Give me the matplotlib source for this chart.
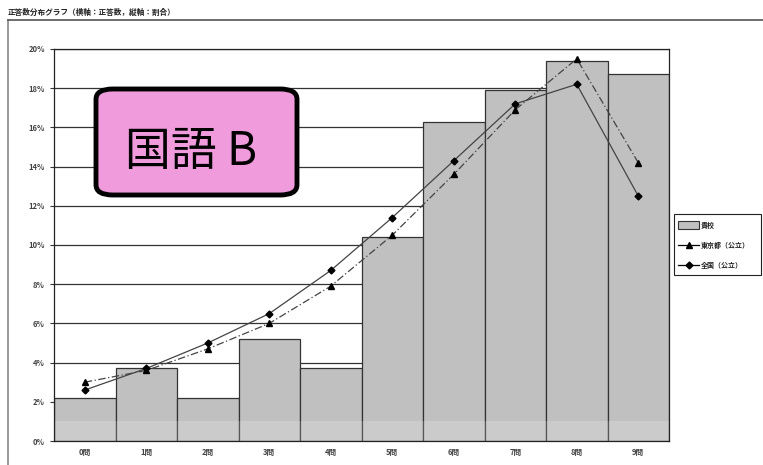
import matplotlib
matplotlib.use("Agg")
import matplotlib.pyplot as plt
from matplotlib.patches import FancyBboxPatch, Rectangle
from matplotlib.lines import Line2D
from matplotlib.ticker import FuncFormatter

plt.rcParams['font.family'] = ['Noto Sans CJK JP', 'DejaVu Sans']

categories = ["0問", "1問", "2問", "3問", "4問", "5問", "6問", "7問", "8問", "9問"]
school = [2.2, 3.7, 2.2, 5.2, 3.7, 10.4, 16.3, 17.9, 19.4, 18.7]
tokyo = [3.0, 3.6, 4.7, 6.0, 7.9, 10.5, 13.6, 16.9, 19.5, 14.2]
national = [2.6, 3.7, 5.0, 6.5, 8.7, 11.4, 14.3, 17.2, 18.2, 12.5]
legend_labels = ["貴校", "東京都（公立）", "全国（公立）"]

W, H = 763, 465
fig = plt.figure(figsize=(W / 100, H / 100), dpi=100)


def fx(px):
    return px / W


def fy(py):
    return 1 - py / H


# outer chart frame and heading
fig.add_artist(Line2D([fx(8), fx(8)], [0, fy(20)], transform=fig.transFigure,
                      color="#888888", lw=1.2))
fig.add_artist(Line2D([fx(8), 1], [fy(20), fy(20)], transform=fig.transFigure,
                      color="#555555", lw=1.2))
fig.text(fx(8), fy(12), "正答数分布グラフ（横軸：正答数，縦軸：割合）",
         fontsize=5.5, fontweight="bold", va="center", ha="left", color="#222222")

ax = fig.add_axes([fx(54), fy(441), (669 - 54) / W, (441 - 49) / H])
x = list(range(len(categories)))

ax.set_ylim(0, 20)
ax.set_xlim(-0.5, len(categories) - 0.5)
ax.set_yticks(range(0, 21, 2))
ax.yaxis.set_major_formatter(FuncFormatter(lambda v, p: f"{int(v)}%"))
ax.grid(axis="y", color="#333333", lw=0.9)
ax.set_axisbelow(True)

ax.bar(x, school, width=1.0, color="#c0c0c0", edgecolor="#333333", lw=0.9, zorder=2)
# lighter band along the floor of the plot
ax.add_patch(Rectangle((-0.5, 0), len(categories), 1.0, facecolor="white",
                       alpha=0.18, lw=0, zorder=2.5))

tokyo_style = dict(color="#444444", lw=0.9, ls=(0, (6, 2, 1, 2)), marker="^",
                   ms=5, mfc="black", mec="black")
national_style = dict(color="#444444", lw=0.9, ls="-", marker="D",
                      ms=3.5, mfc="black", mec="black")
ax.plot(x, tokyo, zorder=4, **tokyo_style)
ax.plot(x, national, zorder=4, **national_style)

ax.set_xticks(x)
ax.set_xticklabels(categories)
ax.tick_params(axis="both", labelsize=5.5, colors="#333333", length=3, width=0.8)
ax.tick_params(axis="x", length=0, pad=5)
for lbl in ax.get_xticklabels() + ax.get_yticklabels():
    lbl.set_fontweight("bold")
    lbl.set_color("#444444")
for s in ax.spines.values():
    s.set_color("#222222")
    s.set_linewidth(0.9)

# legend box, drawn piece by piece
fig.add_artist(Rectangle((fx(674), fy(275)), (761 - 674) / W, (275 - 214) / H,
                         transform=fig.transFigure, facecolor="white",
                         edgecolor="#222222", lw=0.8))
rows = [225, 245, 265]
fig.add_artist(Rectangle((fx(678), fy(rows[0] + 4)), 21 / W, 8 / H,
                         transform=fig.transFigure, facecolor="#c0c0c0",
                         edgecolor="#333333", lw=0.8))
fig.add_artist(Line2D([fx(678), fx(699)], [fy(rows[1])] * 2, transform=fig.transFigure,
                      color="black", lw=0.9))
fig.add_artist(Line2D([fx(688.5)], [fy(rows[1])], transform=fig.transFigure,
                      marker="^", ms=5, mfc="black", mec="black", ls="none"))
fig.add_artist(Line2D([fx(678), fx(699)], [fy(rows[2])] * 2, transform=fig.transFigure,
                      color="black", lw=0.9))
fig.add_artist(Line2D([fx(688.5)], [fy(rows[2])], transform=fig.transFigure,
                      marker="D", ms=3.5, mfc="black", mec="black", ls="none"))
for label, row in zip(legend_labels, rows):
    fig.text(fx(701), fy(row), label, fontsize=5, fontweight="bold",
             ha="left", va="center", color="#222222")

# subject badge
badge = FancyBboxPatch((fx(96), fy(195)), (297 - 96) / W, (195 - 89) / H,
                       boxstyle="round,pad=0,rounding_size=0.022",
                       transform=fig.transFigure, facecolor="#f09cdc",
                       edgecolor="black", lw=3.5, zorder=10)
fig.add_artist(badge)
fig.text(fx(191), fy(152), "国語 B", fontsize=33, ha="center", va="center",
         color="black", zorder=11)

fig.savefig("out.png", dpi=100)
